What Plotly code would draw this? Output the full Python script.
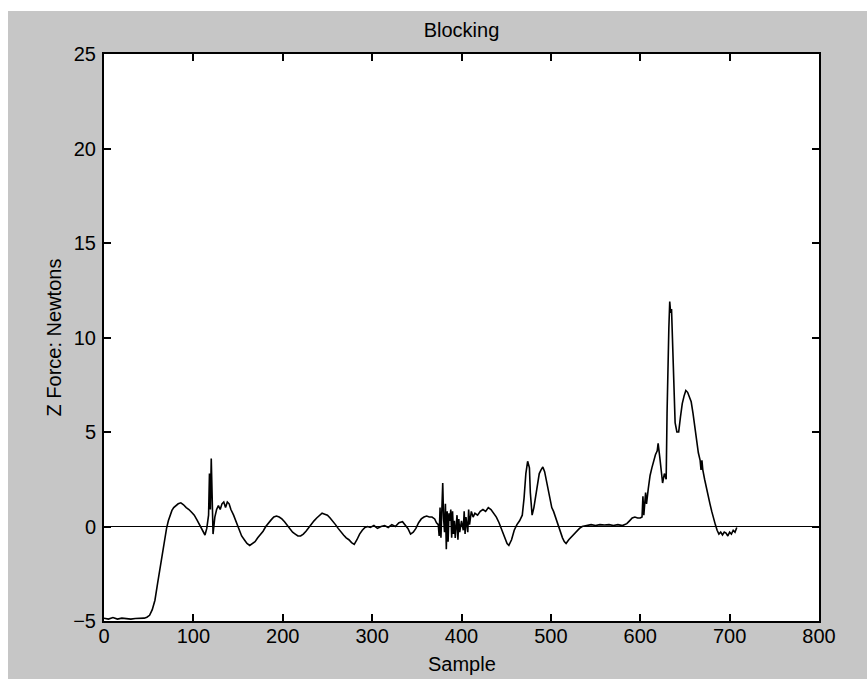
import plotly.graph_objects as go

# ---- data ----
sample = [0, 5, 10, 15, 20, 25, 30, 35, 40, 45, 48, 51, 54, 57, 60, 62, 64, 66, 68, 70,
          72, 74, 76, 78, 80, 83, 86, 89, 92, 95, 98, 101, 104, 107, 110, 113, 115, 117, 118, 119,
          120, 121, 122, 124, 126, 128, 130, 132, 134, 136, 138, 140, 142, 145, 148, 151, 154, 157, 160, 163,
          166, 169, 172, 175, 178, 181, 184, 187, 190, 193, 196, 199, 202, 205, 208, 211, 214, 217, 220, 223,
          226, 229, 232, 235, 238, 241, 244, 247, 250, 253, 256, 259, 262, 265, 268, 271, 274, 277, 280, 283,
          286, 289, 292, 295, 298, 302, 306, 310, 314, 318, 322, 326, 330, 334, 337, 340, 343, 346, 349, 352,
          355, 358, 361, 364, 367, 370, 372, 374, 375, 376, 377, 378, 379, 380, 381, 382, 383, 384, 385, 386,
          387, 388, 389, 390, 391, 392, 393, 395, 396, 397, 398, 400, 402, 403, 404, 405, 407, 408, 409, 411,
          413, 415, 418, 421, 424, 427, 430, 433, 436, 439, 442, 445, 448, 451, 453, 456, 459, 462, 465, 468,
          470, 472, 474, 476, 477, 479, 481, 483, 485, 487, 489, 491, 493, 495, 497, 499, 501, 503, 505, 507,
          509, 511, 513, 515, 517, 520, 523, 526, 529, 532, 535, 540, 545, 550, 555, 560, 565, 570, 575, 580,
          585, 588, 591, 594, 597, 600, 602, 603, 604, 606, 607, 609, 611, 613, 615, 617, 619, 620, 622, 624,
          625, 627, 629, 630, 631, 632, 633, 634, 635, 636, 637, 638, 639, 641, 643, 645, 647, 649, 651, 653,
          655, 657, 659, 661, 663, 665, 667, 668, 669, 670, 672, 674, 676, 678, 680, 682, 684, 686, 688, 690,
          692, 694, 696, 698, 700, 702, 704, 706, 708]
force = [-4.85, -4.9, -4.82, -4.9, -4.85, -4.88, -4.9, -4.87, -4.87, -4.85, -4.8, -4.7, -4.4, -3.9, -3.0, -2.4, -1.8, -1.2, -0.6, -0.1,
         0.3, 0.6, 0.85, 1.0, 1.1, 1.2, 1.25, 1.15, 1.0, 0.9, 0.75, 0.6, 0.35, 0.1, -0.2, -0.45, -0.1, 0.6, 2.8, 0.9,
         3.6, 0.4, -0.4, 0.5, 0.9, 1.1, 0.9, 1.2, 1.3, 1.0, 1.3, 1.2, 0.9, 0.6, 0.2, -0.2, -0.5, -0.7, -0.9, -1.0,
         -0.9, -0.8, -0.6, -0.45, -0.25, 0.0, 0.2, 0.35, 0.5, 0.55, 0.5, 0.4, 0.25, 0.05, -0.15, -0.3, -0.4, -0.5, -0.5, -0.4,
         -0.25, -0.05, 0.15, 0.3, 0.45, 0.6, 0.7, 0.65, 0.6, 0.45, 0.3, 0.1, -0.1, -0.3, -0.45, -0.6, -0.7, -0.85, -0.95, -0.7,
         -0.4, -0.2, -0.05, 0.0, -0.05, 0.05, -0.1, 0.0, 0.05, -0.05, 0.1, 0.0, 0.2, 0.25, 0.1, -0.1, -0.4, -0.3, -0.1, 0.2,
         0.4, 0.5, 0.55, 0.5, 0.5, 0.4, 0.2, 0.1, -0.5, 1.0, -0.6, 1.5, 2.3, 0.4, -0.3, 1.2, -1.2, 0.8, -0.8, 0.7,
         0.3, 0.9, -0.6, 0.8, -0.4, 0.3, -0.6, 0.6, -0.7, 0.4, -0.3, 0.3, -0.2, 0.8, -0.4, 0.5, -0.3, 0.9, 0.1, 0.8,
         0.5, 0.7, 0.6, 0.8, 0.9, 0.8, 1.0, 0.9, 0.7, 0.5, 0.2, -0.2, -0.6, -0.9, -1.0, -0.7, -0.2, 0.1, 0.3, 0.6,
         1.5, 2.8, 3.45, 3.1, 1.8, 0.6, 1.0, 1.6, 2.3, 2.8, 3.0, 3.15, 2.9, 2.4, 1.9, 1.4, 1.0, 0.8, 0.5, 0.3,
         0.0, -0.3, -0.6, -0.8, -0.9, -0.7, -0.55, -0.4, -0.2, -0.1, 0.0, 0.05, 0.1, 0.05, 0.1, 0.08, 0.1, 0.05, 0.1, 0.05,
         0.15, 0.3, 0.45, 0.5, 0.45, 0.45, 0.5, 1.6, 0.6, 1.8, 1.2, 2.0, 2.7, 3.1, 3.5, 3.8, 4.0, 4.4, 3.6, 2.8,
         2.3, 2.8, 2.5, 6.0, 9.5, 10.5, 11.9, 11.3, 11.5, 10.2, 8.5, 6.8, 5.5, 5.0, 5.0, 5.8, 6.5, 6.9, 7.2, 7.1,
         6.8, 6.6, 6.0, 5.3, 4.5, 3.9, 3.5, 3.0, 3.5, 3.0, 2.5, 2.0, 1.6, 1.2, 0.8, 0.4, 0.1, -0.2, -0.4, -0.3,
         -0.45, -0.3, -0.35, -0.5, -0.3, -0.4, -0.2, -0.3, -0.05]

x_ticks = [0, 100, 200, 300, 400, 500, 600, 700, 800]
y_ticks = [-5, 0, 5, 10, 15, 20, 25]
x_range = [0, 800]
y_range = [-5, 25]

FONT = "Liberation Sans, Arial, sans-serif"

fig = go.Figure()
fig.add_trace(go.Scatter(x=sample, y=force, mode="lines",
                         line=dict(color="black", width=1.6), showlegend=False))

W, H = 867, 679
L, R, T, B = 104, 819, 54, 621
pw, ph = R - L, B - T

axis_common = dict(showline=True, linecolor="black", linewidth=2, mirror="ticks",
                   ticks="inside", ticklen=7, tickwidth=1.5, tickcolor="black",
                   showgrid=False, tickfont=dict(family=FONT, size=20, color="black"))

fig.update_layout(
    width=W, height=H,
    margin=dict(l=L, r=W - R, t=T, b=H - B, pad=0),
    paper_bgcolor="#c6c6c6",
    plot_bgcolor="white",
    title=dict(text="Blocking", x=(L + R) / 2 / W, xanchor="center",
               y=1 - 30 / H, yanchor="middle",
               font=dict(family=FONT, size=20, color="black")),
    xaxis=dict(range=x_range, tickvals=x_ticks, zeroline=False,
               ticklabelstandoff=-4,
               **axis_common),
    yaxis=dict(range=y_range, tickvals=y_ticks, zeroline=True, zerolinecolor="black",
               zerolinewidth=1.2, ticklabelstandoff=2,
               title=dict(text="Z Force: Newtons", standoff=6,
                          font=dict(family=FONT, size=20, color="black")),
               **axis_common),
    annotations=[
        dict(text="Sample", xref="paper", yref="paper", x=0.5, xanchor="center",
             y=(B - 664) / ph, yanchor="middle", showarrow=False,
             font=dict(family=FONT, size=20, color="black")),
    ],
    shapes=[
        # white paper margin at the top and left of the scanned figure
        dict(type="rect", xref="paper", yref="paper", layer="above",
             x0=-L / pw - 0.01, x1=(W - L) / pw + 0.01, y0=(B - 11) / ph, y1=(B + 2) / ph,
             fillcolor="white", line=dict(width=0)),
        dict(type="rect", xref="paper", yref="paper", layer="above",
             x0=-L / pw - 0.01, x1=(8 - L) / pw, y0=(B - H - 2) / ph, y1=(B + 2) / ph,
             fillcolor="white", line=dict(width=0)),
    ],
)

fig.write_html(
    "out.html",
    config={"displayModeBar": False},
    post_script="document.body.style.margin='0';document.documentElement.style.overflow='hidden';",
)
